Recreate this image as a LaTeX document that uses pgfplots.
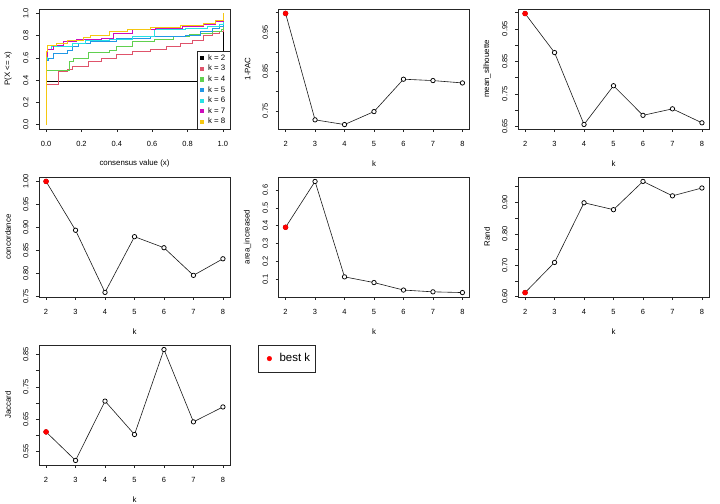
\documentclass[border=0pt]{standalone}
\usepackage{fontspec}
\setmainfont{Liberation Sans}
\usepackage{pgfplots}
\pgfplotsset{compat=1.18}
\definecolor{c2}{HTML}{000000}
\definecolor{c3}{HTML}{DF536B}
\definecolor{c4}{HTML}{61D04F}
\definecolor{c5}{HTML}{2297E6}
\definecolor{c6}{HTML}{28E2E5}
\definecolor{c7}{HTML}{CD0BBC}
\definecolor{c8}{HTML}{F5C710}
\pgfplotsset{
 rbase/.style={scale only axis, width=191bp, height=120bp, anchor=north west,
  axis line style={black!85, line width=0.6bp},
  tick align=outside, tick pos=left, major tick length=3bp,
  tick style={black!85, line width=0.6bp},
  tick label style={font=\fontsize{7.5}{9}\selectfont},
  label style={font=\fontsize{7.9}{9}\selectfont},
  yticklabel style={rotate=90, anchor=south},
  xticklabel shift=6bp, yticklabel shift=4bp,
  /pgf/number format/assume math mode=true,
  xlabel style={at={(axis description cs:0.5,-0.29)}, anchor=center},
  ylabel style={at={(axis description cs:-0.162,0.5)}, anchor=center},
 },
 rk/.style={rbase, xmin=1.76, xmax=8.24, xtick={2,...,8}, xlabel={k},
  yticklabel style={/pgf/number format/.cd, fixed, fixed zerofill, precision=2}},
 rline/.style={black!90, line width=0.6bp, mark=*, mark size=2.2bp,
  mark options={fill=white, draw=black, line width=0.75bp}},
 rbest/.style={only marks, mark=*, mark size=2.5bp, color=red},
 ecdf/.style={const plot, line width=0.75bp},
}
\begin{document}
\begin{tikzpicture}
\path[use as bounding box] (0,0) rectangle (720bp,504bp);
% Panel 1: ECDF
\begin{axis}[rbase, at={(39bp,495bp)},
  xmin=-0.04, xmax=1.04, ymin=-0.04, ymax=1.04,
  xtick={0,0.2,...,1}, ytick={0,0.2,...,1},
  xticklabel style={/pgf/number format/.cd, fixed, fixed zerofill, precision=1},
  yticklabel style={/pgf/number format/.cd, fixed, fixed zerofill, precision=1},
  xlabel={consensus value (x)}, ylabel={P(X <= x)},
  legend style={at={(1,0)}, anchor=south east, draw=black!85, fill=white,
    font=\fontsize{7.9}{9}\selectfont, row sep=-0.6bp, inner xsep=2.5bp, inner ysep=1.5bp},
  legend cell align=left,
  legend image code/.code={\fill (1bp,-1.6bp) rectangle (4.2bp,1.6bp); \path (0bp,0bp) (6bp,0bp);},
]
\addplot[ecdf, color=c2] coordinates {(0,0) (0,0.39) (1,0.39) (1,1)};
\addlegendentry{k = 2}
\addplot[ecdf, color=c3] coordinates {(0,0) (0,0.36) (0.07,0.48) (0.12,0.50) (0.15,0.52) (0.24,0.565) (0.31,0.60) (0.40,0.63) (0.49,0.655) (0.59,0.68) (0.68,0.70) (0.76,0.73) (0.83,0.76) (0.89,0.80) (0.94,0.82) (0.98,0.84) (1,0.86) (1,1)};
\addlegendentry{k = 3}
\addplot[ecdf, color=c4] coordinates {(0,0) (0,0.49) (0.13,0.565) (0.155,0.595) (0.24,0.65) (0.36,0.67) (0.40,0.705) (0.49,0.745) (0.61,0.765) (0.72,0.79) (0.81,0.81) (0.87,0.825) (0.94,0.84) (0.99,0.86) (1,0.87) (1,1)};
\addlegendentry{k = 4}
\addplot[ecdf, color=c5] coordinates {(0,0) (0,0.574) (0.015,0.60) (0.04,0.64) (0.12,0.67) (0.15,0.70) (0.18,0.73) (0.25,0.75) (0.40,0.775) (0.59,0.795) (0.79,0.805) (0.87,0.835) (0.94,0.865) (0.98,0.88) (1,0.9) (1,1)};
\addlegendentry{k = 5}
\addplot[ecdf, color=c6] coordinates {(0,0) (0,0.585) (0.01,0.676) (0.03,0.70) (0.15,0.73) (0.22,0.755) (0.36,0.77) (0.49,0.795) (0.61,0.855) (0.79,0.87) (0.91,0.885) (0.98,0.90) (1,0.92) (1,1)};
\addlegendentry{k = 6}
\addplot[ecdf, color=c7] coordinates {(0,0) (0,0.61) (0.01,0.68) (0.04,0.715) (0.10,0.745) (0.17,0.765) (0.31,0.78) (0.38,0.82) (0.49,0.855) (0.62,0.865) (0.77,0.88) (0.89,0.90) (0.96,0.925) (1,0.94) (1,1)};
\addlegendentry{k = 7}
\addplot[ecdf, color=c8] coordinates {(0,0) (0,0.655) (0.01,0.715) (0.06,0.735) (0.12,0.755) (0.21,0.785) (0.25,0.805) (0.36,0.835) (0.46,0.855) (0.59,0.875) (0.76,0.895) (0.89,0.915) (0.96,0.94) (1,0.95) (1,1)};
\addlegendentry{k = 8}
\end{axis}
% Panel 2: 1-PAC
\begin{axis}[rk, at={(278.5bp,495bp)}, ymin=0.7037, ymax=1.0093,
  ytick={0.75,0.8,...,1.0}, yticklabels={0.75,,0.85,,0.95,}, ylabel={1-PAC}]
\addplot[rline] coordinates {(2,0.998) (3,0.727) (4,0.715) (5,0.748) (6,0.8305) (7,0.827) (8,0.821)};
\addplot[rbest] coordinates {(2,0.998)};
\end{axis}
% Panel 3: mean_silhouette
\begin{axis}[rk, at={(518bp,495bp)}, ymin=0.642, ymax=1.011,
  ytick={0.65,0.7,...,1.0}, yticklabels={0.65,,0.75,,0.85,,0.95,}, ylabel={mean\_silhouette}]
\addplot[rline] coordinates {(2,0.997) (3,0.877) (4,0.656) (5,0.775) (6,0.684) (7,0.704) (8,0.661)};
\addplot[rbest] coordinates {(2,0.997)};
\end{axis}
% Panel 4: concordance
\begin{axis}[rk, at={(39bp,327bp)}, ymin=0.749, ymax=1.0096,
  ytick={0.75,0.8,...,1.0}, ylabel={concordance}]
\addplot[rline] coordinates {(2,1.0) (3,0.894) (4,0.759) (5,0.880) (6,0.856) (7,0.796) (8,0.832)};
\addplot[rbest] coordinates {(2,1.0)};
\end{axis}
% Panel 5: area_increased
\begin{axis}[rk, at={(278.5bp,327bp)}, ymin=0.0001, ymax=0.673,
  ytick={0.1,0.2,...,0.6},
  yticklabel style={/pgf/number format/.cd, fixed, fixed zerofill, precision=1},
  ylabel={area\_increased}]
\addplot[rline] coordinates {(2,0.391) (3,0.648) (4,0.113) (5,0.081) (6,0.039) (7,0.029) (8,0.025)};
\addplot[rbest] coordinates {(2,0.391)};
\end{axis}
% Panel 6: Rand
\begin{axis}[rk, at={(518bp,327bp)}, ymin=0.599, ymax=0.981,
  ytick={0.6,0.65,...,0.96}, yticklabels={0.60,,0.70,,0.80,,0.90,}, ylabel={Rand}]
\addplot[rline] coordinates {(2,0.613) (3,0.709) (4,0.899) (5,0.877) (6,0.967) (7,0.921) (8,0.946)};
\addplot[rbest] coordinates {(2,0.613)};
\end{axis}
% Panel 7: Jaccard
\begin{axis}[rk, at={(39bp,159bp)}, ymin=0.509, ymax=0.879,
  ytick={0.55,0.6,...,0.86}, yticklabels={0.55,,0.65,,0.75,,0.85}, ylabel={Jaccard}]
\addplot[rline] coordinates {(2,0.611) (3,0.523) (4,0.706) (5,0.603) (6,0.865) (7,0.642) (8,0.688)};
\addplot[rbest] coordinates {(2,0.611)};
\end{axis}
% Legend panel
\begin{axis}[scale only axis, width=60bp, height=28bp, anchor=north west, at={(258bp,159bp)},
  hide axis, xmin=0, xmax=1, ymin=0, ymax=1, clip=true,
  legend style={at={(0,1)}, anchor=north west, draw=black!85, fill=white,
    font=\fontsize{11.5}{13}\selectfont, inner xsep=3bp, inner ysep=6.5bp},
  legend image code/.code={\fill (8bp,0bp) circle (2.3bp); \path (0bp,0bp) (16bp,0bp);}]
\addplot[only marks, mark=*, color=red] coordinates {(5,5)};
\addlegendentry{best k}
\end{axis}
\end{tikzpicture}
\end{document}
